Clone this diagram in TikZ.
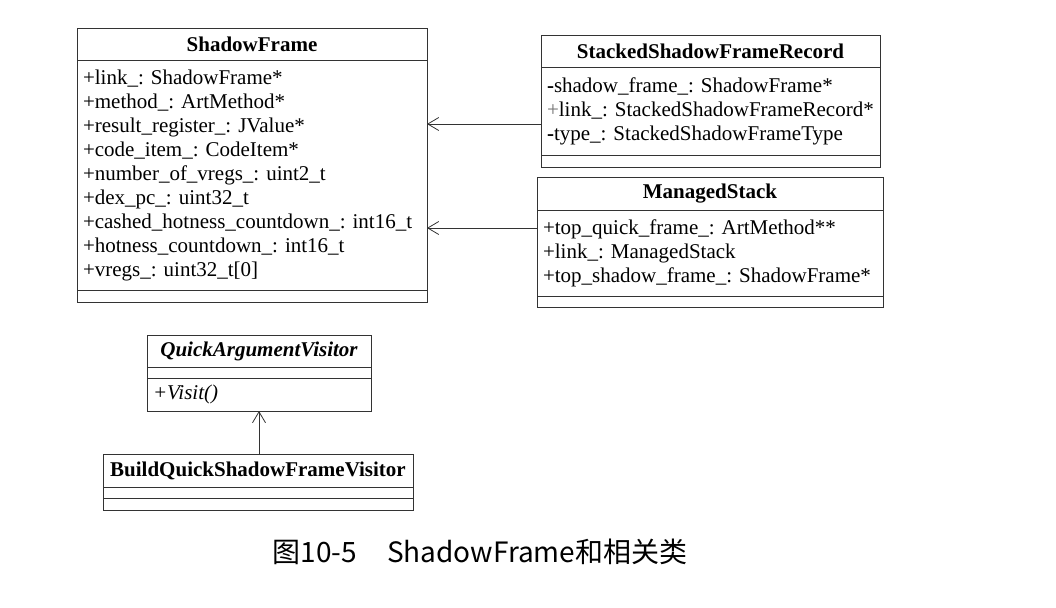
\documentclass[tikz,border=0pt]{standalone}
\usepackage{fontspec}
\setmainfont{Liberation Serif}
\newfontfamily\captionfont{Noto Sans CJK SC}
\usepackage{tikz}
\usetikzlibrary{positioning, arrows.meta}

\begin{document}
\frenchspacing
\hyphenpenalty=10000
\begin{tikzpicture}[x=1pt, y=-1pt]
    % Define styles
    \tikzstyle{classname} = [rectangle, draw=black!80, line width=0.8pt, outer sep=0pt, inner sep=0pt, anchor=north west, minimum height=32pt, font=\fontsize{21}{24}\selectfont\bfseries]
    \tikzstyle{members} = [rectangle, draw=black!80, line width=0.8pt, outer sep=0pt, inner xsep=6pt, inner ysep=0pt, align=left, font=\fontsize{21}{24}\selectfont]
    \tikzstyle{empty} = [rectangle, draw=black!80, line width=0.8pt, outer sep=0pt, inner sep=0pt, minimum height=12pt]
    \tikzstyle{arrow} = [line width=0.8pt, draw=black!80, -{Straight Barb[length=11pt, width=13pt]}]

    \useasboundingbox (0,0) rectangle (1056,607);

    % ShadowFrame
    \node (sfName) [classname, minimum width=350pt] at (77,28) {ShadowFrame};
    \node (sfAttr) [members, below=0pt of sfName, text width=338pt, minimum height=230pt] {+link\_: ShadowFrame*\\+method\_: ArtMethod*\\+result\_register\_: JValue*\\+code\_item\_: CodeItem*\\+number\_of\_vregs\_: uint2\_t\\+dex\_pc\_: uint32\_t\\+cashed\_hotness\_countdown\_: int16\_t\\+hotness\_countdown\_: int16\_t\\+vregs\_: uint32\_t[0]};
    \node (sfOps) [empty, below=0pt of sfAttr, minimum width=350pt] {};

    % StackedShadowFrameRecord
    \node (ssfrName) [classname, minimum width=339pt] at (541,35) {StackedShadowFrameRecord};
    \node (ssfrAttr) [members, below=0pt of ssfrName, text width=327pt, minimum height=88pt] {\textbf{-}shadow\_frame\_: ShadowFrame*\\\textcolor{black!55}{+}link\_: StackedShadowFrameRecord*\\\textbf{-}type\_: StackedShadowFrameType};
    \node (ssfrOps) [empty, below=0pt of ssfrAttr, minimum width=339pt] {};

    % ManagedStack
    \node (msName) [classname, minimum width=346pt, minimum height=33pt] at (537,177) {ManagedStack};
    \node (msAttr) [members, below=0pt of msName, text width=334pt, minimum height=86pt] {+top\_quick\_frame\_: ArtMethod**\\+link\_: ManagedStack\\+top\_shadow\_frame\_: ShadowFrame*};
    \node (msOps) [empty, below=0pt of msAttr, minimum width=346pt, minimum height=11pt] {};

    % QuickArgumentVisitor
    \node (qavName) [classname, minimum width=224pt, font=\fontsize{21}{24}\selectfont\bfseries\itshape] at (147,335) {QuickArgumentVisitor};
    \node (qavAttr) [empty, below=0pt of qavName, minimum width=224pt, minimum height=11pt] {};
    \node (qavOps) [members, below=0pt of qavAttr, text width=212pt, minimum height=33pt, font=\fontsize{21}{24}\selectfont\itshape] {+Visit()};

    % BuildQuickShadowFrameVisitor
    \node (bqName) [classname, minimum width=310pt, minimum height=33pt] at (103,454) {BuildQuickShadowFrameVisitor};
    \node (bqAttr) [empty, below=0pt of bqName, minimum width=310pt, minimum height=11pt] {};
    \node (bqOps) [empty, below=0pt of bqAttr, minimum width=310pt] {};

    % Arrows
    \draw [arrow] ([yshift=-13pt]ssfrAttr.west) -- ([yshift=-13pt]ssfrAttr.west -| sfAttr.east);
    \draw [arrow] ([yshift=25pt]msAttr.west) -- ([yshift=25pt]msAttr.west -| sfAttr.east);
    \draw [arrow] (bqName.north -| qavOps.south) -- (qavOps.south);

    % Caption
    \node (caption) [font=\captionfont\fontsize{28}{32}\selectfont] at (480,552) {图10-5\hspace{30pt}ShadowFrame和相关类};
\end{tikzpicture}
\end{document}
